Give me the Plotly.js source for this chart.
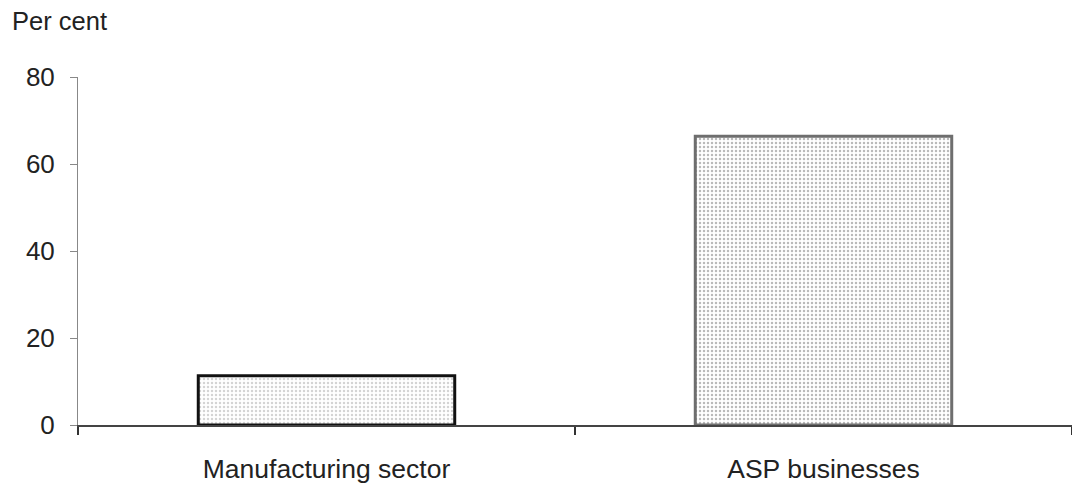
<!DOCTYPE html>
<html>
<head>
<meta charset="utf-8">
<script src="https://cdn.plot.ly/plotly-3.0.1.min.js"></script>
<style>html,body{margin:0;padding:0;background:#fff;}#chart{width:1072px;height:486px;}</style>
</head>
<body>
<div id="chart"></div>
<script>
const categories = ["Manufacturing sector", "ASP businesses"];
const values = [11.3, 66.4];
const yTicks = [0, 20, 40, 60, 80];

const trace = {
  type: "bar",
  x: categories,
  y: values,
  width: 0.516,
  marker: {
    color: ["#d4d4d4", "#bababa"],
    line: {color: ["#111111", "#6e6e6e"], width: [3, 3]},
    pattern: {shape: ".", fgcolor: ["#4a4a4a", "#5a5a5a"], bgcolor: ["#dadada", "#c2c2c2"], size: 4, solidity: 0.3}
  },
  hoverinfo: "skip"
};

const layout = {
  width: 1072, height: 486,
  margin: {l: 78, r: 0, t: 77, b: 61},
  paper_bgcolor: "#ffffff", plot_bgcolor: "#ffffff",
  font: {family: "Liberation Sans, Arial, sans-serif", size: 24, color: "#222"},
  showlegend: false,
  xaxis: {
    type: "category",
    range: [-0.5, 1.5],
    showline: true, linecolor: "#444", linewidth: 1.5,
    ticks: "outside", tickson: "boundaries", ticklen: 8, tickcolor: "#333", tickwidth: 1.5,
    tickfont: {size: 26.5, color: "#222"},
    ticklabelstandoff: 20,
    showgrid: false, zeroline: false
  },
  yaxis: {
    range: [0, 80],
    tickvals: yTicks,
    showline: true, linecolor: "#888", linewidth: 1,
    ticks: "outside", ticklen: 7, tickcolor: "#888",
    tickfont: {size: 26, color: "#222"},
    ticklabelstandoff: 10,
    showgrid: false, zeroline: false
  },
  annotations: [{
    text: "Per cent", xref: "paper", yref: "paper",
    x: -0.068, y: 1.16, xanchor: "left", yanchor: "middle",
    showarrow: false, font: {size: 25.5, color: "#222"}
  }]
};

Plotly.newPlot("chart", [trace], layout, {staticPlot: true, displayModeBar: false});
</script>
</body>
</html>
